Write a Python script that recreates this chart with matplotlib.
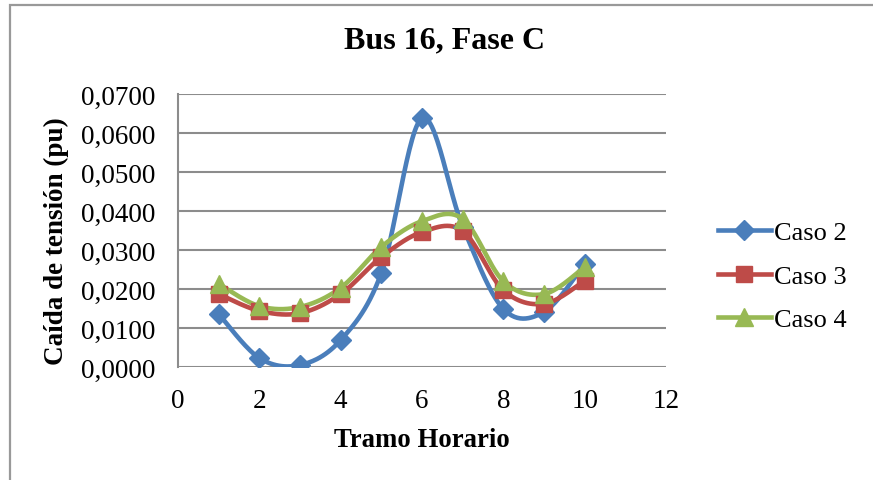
import numpy as np
import matplotlib
matplotlib.use("Agg")
import matplotlib.pyplot as plt
from matplotlib.patches import Rectangle
from matplotlib.ticker import FuncFormatter

tramos = [1, 2, 3, 4, 5, 6, 7, 8, 9, 10]
caso2 = [0.0136, 0.0023, 0.0005, 0.0069, 0.0241, 0.0638, 0.0360, 0.0149, 0.0141, 0.0264]
caso3 = [0.0187, 0.0144, 0.0138, 0.0187, 0.0282, 0.0346, 0.0349, 0.0197, 0.0162, 0.0221]
caso4 = [0.0213, 0.0156, 0.0154, 0.0203, 0.0308, 0.0374, 0.0380, 0.0220, 0.0187, 0.0256]
y_ticks = [0, 0.01, 0.02, 0.03, 0.04, 0.05, 0.06, 0.07]
x_ticks = [0, 2, 4, 6, 8, 10, 12]


def smooth(x, y, n=30):
    # Excel-like smoothed line (Catmull-Rom through the points)
    x = np.asarray(x, float)
    y = np.asarray(y, float)
    px = np.concatenate([[x[0]], x, [x[-1]]])
    py = np.concatenate([[y[0]], y, [y[-1]]])
    xs, ys = [], []
    t = np.linspace(0, 1, n)
    for i in range(1, len(px) - 2):
        p0, p1, p2, p3 = (np.array([px[j], py[j]]) for j in (i - 1, i, i + 1, i + 2))
        c1 = p1 + (p2 - p0) / 6
        c2 = p2 - (p3 - p1) / 6
        pts = ((1 - t) ** 3)[:, None] * p1 + (3 * (1 - t) ** 2 * t)[:, None] * c1 \
            + (3 * (1 - t) * t ** 2)[:, None] * c2 + (t ** 3)[:, None] * p2
        xs.extend(pts[:, 0])
        ys.extend(pts[:, 1])
    return xs, ys


plt.rcParams['font.family'] = ['Liberation Serif', 'DejaVu Serif']

W, H = 873, 481
fig = plt.figure(figsize=(W / 100, H / 100), dpi=100)
ax = fig.add_axes([178 / W, 1 - 368 / H, (666 - 178) / W, (368 - 95) / H])

series = [
    ("Caso 2", caso2, "#4A7EBB", "D", 10.5),
    ("Caso 3", caso3, "#BE4B48", "s", 11.5),
    ("Caso 4", caso4, "#98B954", "^", 13),
]
for name, vals, col, mk, ms in series:
    sx, sy = smooth(tramos, vals)
    ax.plot(sx, sy, color=col, lw=3.3, solid_capstyle='round', zorder=3)
    ax.plot(tramos, vals, ls='none', marker=mk, ms=ms, color=col, zorder=4)
    ax.plot([], [], color=col, lw=3.3, marker=mk, ms=ms, label=name)

ax.set_xlim(0, 12)
ax.set_ylim(0, 0.07)
ax.set_xticks(x_ticks)
ax.set_yticks(y_ticks)
ax.yaxis.set_major_formatter(FuncFormatter(lambda v, p: f"{v:.4f}".replace(".", ",")))
ax.grid(axis='y', color='#8c8c8c', lw=1.5)
ax.set_axisbelow(True)
for s in ['top', 'right', 'bottom']:
    ax.spines[s].set_visible(False)
ax.spines['left'].set_color('#8c8c8c')
ax.spines['left'].set_linewidth(1.5)
ax.tick_params(length=0, labelsize=19.5, colors='black')
ax.tick_params(axis='y', pad=16)
ax.tick_params(axis='x', pad=15)

fig.text(422 / W, 1 - 447 / H, "Tramo Horario", ha='center', va='baseline',
         fontsize=19.3, fontweight='bold')
fig.text(56 / W, 1 - 241 / H, "Caída de tensión (pu)", ha='center', va='center',
         rotation=90, fontsize=19.5, fontweight='bold')
fig.text(445 / W, 1 - 48 / H, "Bus 16, Fase C", ha='center', va='baseline',
         fontsize=23, fontweight='bold')

fig.legend(loc='center left', bbox_to_anchor=(718 / W, 1 - 277 / H), frameon=False,
           fontsize=19, handlelength=2.0, handletextpad=0.12, labelspacing=0.75,
           borderpad=0, borderaxespad=0)

fig.patches.append(Rectangle((10 / W, -0.05), 1, 1.05 - 6 / H, transform=fig.transFigure,
                             fill=False, ec='#999999', lw=1.6))

fig.savefig("out.png", dpi=100)
